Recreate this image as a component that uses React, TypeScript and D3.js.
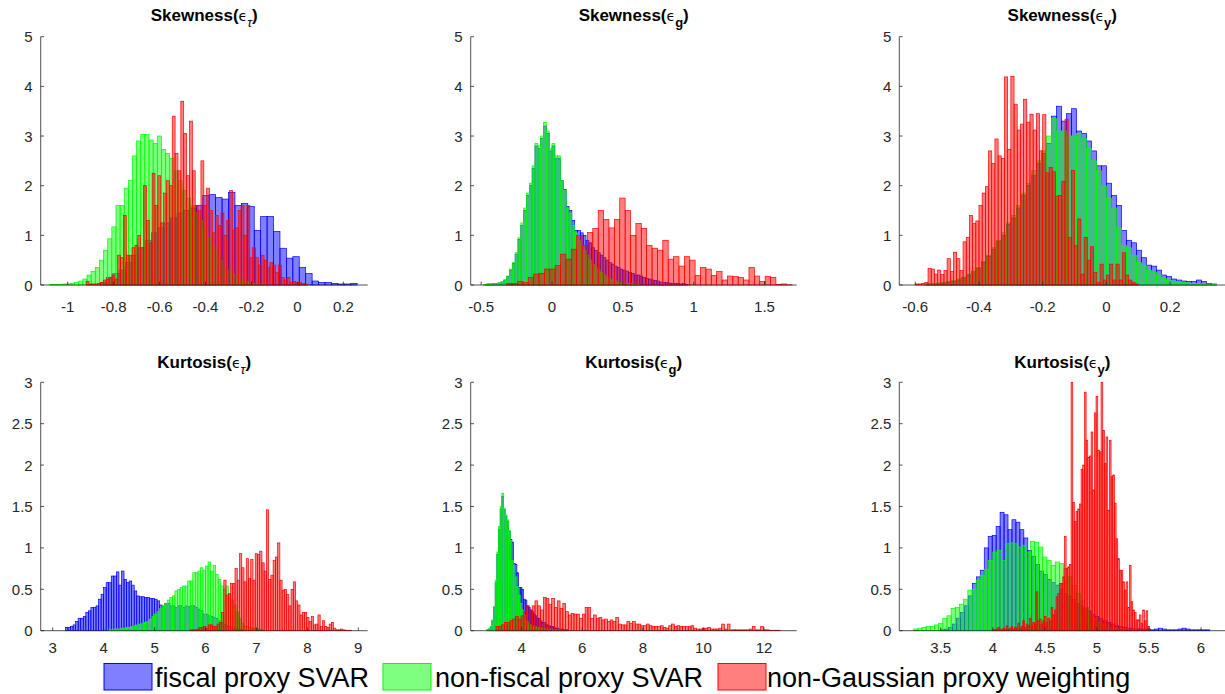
import React from "react";
import * as d3 from "d3";

const FONT = "'Liberation Sans', Arial, Helvetica, sans-serif";
const AXIS = "#262626";
const BLUE = "#0000ff";
const GREEN = "#00ff00";
const RED = "#ff0000";

// ---------- Skewness(eps_tau) ----------
const skewTauBlueStart = -0.86;
const skewTauBlueWidth = 0.028;
const skewTauBlue = [0.05, 0.15, 0.23, 0.3, 0.45, 0.6, 0.75, 0.9, 1.05, 1.15, 1.25, 1.35, 1.45, 1.5, 1.55, 1.6, 1.8, 1.82, 1.76, 1.73, 1.86, 1.6, 1.64, 1.58, 1.1, 1.38, 1.38, 1.08, 0.74, 0.54, 0.57, 0.35, 0.23, 0.08, 0.05, 0.05, 0.03, 0.02, 0.02, 0.03];
const skewTauGreenStart = -1.078;
const skewTauGreenWidth = 0.018;
const skewTauGreen = [0.01, 0.01, 0.01, 0.02, 0.02, 0.03, 0.05, 0.08, 0.12, 0.2, 0.27, 0.35, 0.5, 0.7, 0.93, 1.17, 1.6, 1.6, 1.95, 2.1, 2.6, 2.9, 3.03, 3.03, 2.92, 2.85, 3.0, 2.73, 2.65, 2.55, 2.3, 2.1, 1.9, 1.75, 1.6, 1.45, 1.3, 1.15, 0.95, 0.8, 0.65, 0.5, 0.4, 0.3, 0.22, 0.15, 0.1, 0.07, 0.05, 0.03, 0.02, 0.01];
const skewTauRedStart = -0.92;
const skewTauRedWidth = 0.0125;
const skewTauRed = [0.07, 0.02, 0.02, 0.02, 0.03, 0.05, 0.1, 0.12, 0.15, 0.2, 0.12, 0.6, 0.55, 1.4, 0.6, 0.6, 0.75, 0.8, 1.0, 0.75, 2.0, 1.3, 0.85, 2.25, 1.6, 2.2, 1.25, 1.85, 2.1, 2.0, 3.4, 2.65, 2.3, 3.7, 3.05, 2.2, 3.3, 2.3, 1.6, 1.5, 2.5, 1.6, 1.95, 1.5, 1.05, 1.4, 1.2, 1.45, 1.0, 1.3, 1.9, 1.1, 1.15, 1.5, 1.6, 1.0, 1.6, 0.55, 0.75, 0.55, 0.4, 0.6, 0.5, 0.35, 0.45, 0.4, 0.25, 0.4, 0.15, 0.1, 0.15, 0.05, 0.07, 0.05, 0.05, 0.03, 0.01];

// ---------- Skewness(eps_g) ----------
const skewGBlueStart = -0.48;
const skewGBlueWidth = 0.02;
const skewGBlue = [0.01, 0.02, 0.02, 0.03, 0.03, 0.04, 0.06, 0.1, 0.17, 0.3, 0.43, 0.62, 0.92, 1.2, 1.5, 1.8, 2.0, 2.35, 2.8, 2.75, 2.95, 3.2, 3.05, 2.7, 2.8, 2.55, 2.55, 2.1, 1.92, 1.58, 1.5, 1.3, 1.1, 1.1, 1.05, 1.0, 0.9, 0.85, 0.75, 0.7, 0.65, 0.6, 0.55, 0.5, 0.45, 0.42, 0.38, 0.35, 0.32, 0.3, 0.28, 0.25, 0.23, 0.2, 0.2, 0.18, 0.15, 0.13, 0.12, 0.1, 0.09, 0.08, 0.06, 0.05, 0.05, 0.04, 0.03, 0.03, 0.03, 0.02, 0.03, 0.01];
const skewGGreenStart = -0.48;
const skewGGreenWidth = 0.02;
const skewGGreen = [0.01, 0.02, 0.02, 0.03, 0.03, 0.04, 0.06, 0.1, 0.18, 0.32, 0.45, 0.65, 0.95, 1.25, 1.55, 1.85, 2.05, 2.4, 2.85, 2.8, 3.0, 3.27, 3.1, 2.75, 2.85, 2.6, 2.6, 2.1, 1.9, 1.55, 1.45, 1.2, 1.05, 0.9, 0.8, 0.7, 0.6, 0.5, 0.42, 0.35, 0.3, 0.25, 0.2, 0.16, 0.12, 0.1, 0.08, 0.06, 0.05, 0.04, 0.03, 0.03, 0.02, 0.02, 0.01];
const skewGRedStart = -0.32;
const skewGRedWidth = 0.038;
const skewGRed = [0.03, 0.03, 0.07, 0.05, 0.15, 0.22, 0.23, 0.32, 0.32, 0.39, 0.62, 0.52, 0.72, 1.0, 0.8, 1.06, 1.14, 1.5, 1.32, 1.15, 1.32, 1.75, 1.5, 1.0, 1.24, 1.14, 0.8, 0.74, 0.7, 0.9, 0.52, 0.57, 0.38, 0.57, 0.5, 0.19, 0.35, 0.32, 0.19, 0.27, 0.1, 0.18, 0.17, 0.15, 0.1, 0.35, 0.18, 0.07, 0.17, 0.15, 0.01, 0.02, 0.005];

// ---------- Skewness(eps_y) ----------
const skewYBlueStart = -0.565;
const skewYBlueWidth = 0.0157;
const skewYBlue = [0.02, 0.02, 0.03, 0.04, 0.05, 0.07, 0.1, 0.14, 0.2, 0.27, 0.33, 0.45, 0.58, 0.72, 0.87, 1.0, 1.22, 1.35, 1.55, 1.8, 2.0, 2.2, 2.45, 2.65, 2.85, 3.4, 3.6, 3.3, 3.45, 3.55, 3.1, 3.05, 2.9, 2.7, 2.4, 2.4, 2.05, 1.8, 1.6, 1.1, 0.9, 0.85, 0.7, 0.55, 0.4, 0.38, 0.3, 0.2, 0.17, 0.12, 0.1, 0.08, 0.07, 0.07, 0.1, 0.07, 0.03, 0.02];
const skewYGreenStart = -0.565;
const skewYGreenWidth = 0.0157;
const skewYGreen = [0.02, 0.03, 0.04, 0.05, 0.07, 0.09, 0.12, 0.16, 0.22, 0.28, 0.35, 0.47, 0.6, 0.75, 0.9, 1.05, 1.25, 1.4, 1.6, 1.85, 2.05, 2.3, 2.5, 2.7, 3.0, 3.35, 3.1, 3.1, 3.0, 3.0, 3.05, 2.95, 2.75, 2.5, 2.3, 2.0, 1.75, 1.55, 1.15, 0.8, 0.75, 0.6, 0.45, 0.4, 0.3, 0.25, 0.2, 0.13, 0.1, 0.08, 0.07, 0.05, 0.04, 0.03, 0.03, 0.02, 0.02, 0.01];
const skewYRedStart = -0.6;
const skewYRedWidth = 0.01;
const skewYRed = [0.02, 0.02, 0.03, 0.05, 0.33, 0.32, 0.22, 0.3, 0.21, 0.29, 0.53, 0.27, 0.66, 0.53, 0.29, 0.87, 0.96, 1.4, 1.24, 1.29, 1.6, 1.85, 1.98, 2.7, 2.45, 2.94, 2.6, 2.55, 4.19, 2.73, 4.2, 3.64, 3.12, 3.24, 3.74, 3.28, 3.44, 3.12, 3.45, 2.7, 3.43, 2.26, 2.37, 2.28, 1.79, 1.8, 2.09, 3.34, 0.96, 2.31, 0.79, 1.33, 0.22, 0.96, 0.5, 0.77, 0.25, 0.05, 0.42, 0.1, 0.2, 0.42, 0.1, 0.42, 0.1, 0.65, 0.2, 0.1, 0.05, 0.02];

// ---------- Kurtosis(eps_tau) ----------
const kurtTauBlueStart = 3.25;
const kurtTauBlueWidth = 0.05;
const kurtTauBlue = [0.04, 0.04, 0.05, 0.07, 0.11, 0.15, 0.15, 0.17, 0.22, 0.24, 0.28, 0.28, 0.3, 0.38, 0.44, 0.52, 0.58, 0.58, 0.66, 0.66, 0.71, 0.55, 0.72, 0.62, 0.58, 0.6, 0.55, 0.48, 0.42, 0.41, 0.41, 0.4, 0.4, 0.39, 0.39, 0.38, 0.36, 0.31, 0.29, 0.33, 0.33, 0.3, 0.3, 0.28, 0.3, 0.3, 0.28, 0.3, 0.29, 0.3, 0.3, 0.28, 0.26, 0.24, 0.2, 0.2, 0.18, 0.17, 0.16, 0.15, 0.12, 0.1, 0.08, 0.06, 0.05, 0.04, 0.03, 0.02, 0.02, 0.01];
const kurtTauGreenStart = 4.1;
const kurtTauGreenWidth = 0.05;
const kurtTauGreen = [0.01, 0.01, 0.02, 0.02, 0.02, 0.03, 0.03, 0.04, 0.04, 0.05, 0.06, 0.07, 0.08, 0.09, 0.1, 0.11, 0.14, 0.17, 0.2, 0.23, 0.27, 0.3, 0.33, 0.37, 0.4, 0.42, 0.48, 0.5, 0.52, 0.54, 0.54, 0.6, 0.6, 0.7, 0.7, 0.72, 0.76, 0.73, 0.78, 0.83, 0.72, 0.79, 0.68, 0.62, 0.54, 0.5, 0.54, 0.44, 0.37, 0.31, 0.23, 0.15, 0.09, 0.06, 0.05, 0.04, 0.03, 0.03, 0.02, 0.02, 0.01];
const kurtTauRedStart = 5.7;
const kurtTauRedWidth = 0.044;
const kurtTauRed = [0.01, 0.01, 0.01, 0.02, 0.04, 0.04, 0.05, 0.03, 0.07, 0.07, 0.05, 0.05, 0.08, 0.1, 0.22, 0.61, 0.43, 0.45, 0.57, 0.57, 0.75, 0.61, 0.93, 0.76, 0.59, 0.87, 0.63, 0.86, 0.61, 0.93, 0.92, 0.96, 0.82, 0.72, 1.46, 0.62, 0.67, 0.85, 0.89, 1.06, 0.61, 0.49, 0.5, 0.44, 0.3, 0.5, 0.59, 0.36, 0.31, 0.19, 0.22, 0.22, 0.16, 0.11, 0.17, 0.07, 0.08, 0.19, 0.05, 0.12, 0.05, 0.04, 0.08, 0.1, 0.03, 0.01, 0.01, 0.02, 0.01, 0.005, 0.005, 0.005];

// ---------- Kurtosis(eps_g) ----------
const kurtGBlueStart = 2.85;
const kurtGBlueWidth = 0.055;
const kurtGBlue = [0.01, 0.02, 0.04, 0.12, 0.28, 0.58, 0.92, 1.22, 1.47, 1.62, 1.46, 1.38, 1.32, 1.2, 1.1, 1.07, 0.81, 0.8, 0.7, 0.52, 0.52, 0.5, 0.38, 0.37, 0.3, 0.28, 0.25, 0.23, 0.2, 0.18, 0.15, 0.15, 0.12, 0.1, 0.1, 0.08, 0.07, 0.06, 0.05, 0.05, 0.04, 0.03, 0.03, 0.02, 0.02, 0.02, 0.01, 0.01, 0.01];
const kurtGGreenStart = 2.85;
const kurtGGreenWidth = 0.055;
const kurtGGreen = [0.01, 0.02, 0.05, 0.13, 0.29, 0.61, 0.95, 1.26, 1.5, 1.66, 1.48, 1.4, 1.34, 1.21, 1.09, 0.85, 0.79, 0.65, 0.53, 0.43, 0.33, 0.25, 0.19, 0.13, 0.11, 0.08, 0.07, 0.06, 0.05, 0.05, 0.04, 0.04, 0.03, 0.03, 0.03, 0.02, 0.02, 0.02, 0.02, 0.01, 0.01, 0.01, 0.01, 0.01, 0.01];
const kurtGRedStart = 3.15;
const kurtGRedWidth = 0.092;
const kurtGRed = [0.05, 0.05, 0.07, 0.1, 0.1, 0.12, 0.14, 0.17, 0.14, 0.18, 0.23, 0.3, 0.25, 0.3, 0.36, 0.3, 0.25, 0.4, 0.39, 0.32, 0.39, 0.28, 0.36, 0.27, 0.33, 0.23, 0.19, 0.21, 0.2, 0.2, 0.15, 0.2, 0.28, 0.28, 0.15, 0.19, 0.15, 0.16, 0.13, 0.14, 0.11, 0.13, 0.11, 0.16, 0.08, 0.07, 0.07, 0.11, 0.09, 0.11, 0.08, 0.08, 0.06, 0.06, 0.08, 0.06, 0.05, 0.05, 0.05, 0.06, 0.04, 0.03, 0.06, 0.08, 0.05, 0.06, 0.05, 0.05, 0.05, 0.05, 0.06, 0.03, 0.02, 0.02, 0.03, 0.03, 0.04, 0.02, 0.02, 0.02, 0.03, 0.08, 0.02, 0.08, 0.01, 0.01, 0.01, 0.01, 0.01, 0.01, 0.01, 0.02, 0.05, 0.01, 0.01, 0.05, 0.01, 0.01, 0.005, 0.005, 0.005, 0.005];

// ---------- Kurtosis(eps_y) ----------
const kurtYBlueStart = 3.5;
const kurtYBlueWidth = 0.038;
const kurtYBlue = [0.01, 0.02, 0.04, 0.08, 0.15, 0.22, 0.3, 0.42, 0.57, 0.65, 0.73, 1.0, 1.14, 1.15, 1.26, 1.43, 1.4, 1.22, 1.34, 1.31, 1.22, 1.12, 0.97, 0.9, 0.8, 0.72, 0.68, 0.62, 0.58, 0.55, 0.5, 0.45, 0.42, 0.38, 0.33, 0.3, 0.27, 0.24, 0.2, 0.17, 0.15, 0.12, 0.1, 0.08, 0.06, 0.05, 0.04, 0.03, 0.03, 0.02, 0.02, 0.02, 0.02, 0.01, 0.02, 0.03, 0.02, 0.01, 0.01, 0.01, 0.02, 0.03, 0.02, 0.01, 0.01, 0.01, 0.01, 0.01];
const kurtYGreenStart = 3.24;
const kurtYGreenWidth = 0.04;
const kurtYGreen = [0.02, 0.03, 0.04, 0.05, 0.05, 0.07, 0.09, 0.15, 0.18, 0.27, 0.28, 0.32, 0.38, 0.49, 0.5, 0.61, 0.67, 0.74, 0.85, 0.95, 0.97, 0.85, 1.05, 1.06, 1.05, 1.01, 1.03, 0.95, 1.08, 1.07, 1.01, 0.89, 0.85, 0.79, 0.83, 0.81, 0.75, 0.65, 0.55, 0.45, 0.36, 0.28, 0.2, 0.15, 0.1, 0.08, 0.06, 0.04, 0.03, 0.02, 0.02, 0.01, 0.01, 0.01];
const kurtYRedStart = 4.0;
const kurtYRedWidth = 0.016;
const kurtYRed = [0.01, 0.01, 0.02, 0.04, 0.02, 0.01, 0.03, 0.02, 0.06, 0.02, 0.03, 0.05, 0.02, 0.04, 0.03, 0.09, 0.03, 0.05, 0.12, 0.04, 0.08, 0.06, 0.15, 0.06, 0.1, 0.08, 0.47, 0.12, 0.14, 0.08, 0.12, 0.17, 0.1, 0.15, 0.12, 0.28, 0.19, 0.25, 0.41, 0.45, 0.57, 0.57, 0.65, 1.14, 0.75, 0.77, 0.8, 3.0, 1.55, 1.32, 1.44, 1.47, 1.53, 1.95, 2.0, 2.88, 2.3, 2.09, 2.11, 2.4, 1.7, 2.63, 2.83, 2.18, 2.16, 3.0, 2.42, 2.02, 2.34, 1.45, 2.3, 1.86, 1.88, 1.54, 1.11, 0.87, 0.73, 0.73, 0.59, 0.49, 0.59, 0.28, 0.79, 0.35, 0.25, 0.22, 0.13, 0.13, 0.19, 0.09, 0.25, 0.12, 0.24, 0.05, 0.01];

// ---------- ticks & labels ----------
const skewTauTicks = [-1, -0.8, -0.6, -0.4, -0.2, 0, 0.2];
const skewGTicks = [-0.5, 0, 0.5, 1, 1.5];
const skewYTicks = [-0.6, -0.4, -0.2, 0, 0.2];
const kurtTauTicks = [3, 4, 5, 6, 7, 8, 9];
const kurtGTicks = [4, 6, 8, 10, 12];
const kurtYTicks = [3.5, 4, 4.5, 5, 5.5, 6];
const skewYAxisTicks = [0, 1, 2, 3, 4, 5];
const kurtYAxisTicks = [0, 0.5, 1, 1.5, 2, 2.5, 3];
const legendLabels = ["fiscal proxy SVAR", "non-fiscal proxy SVAR", "non-Gaussian proxy weighting"];

type Series = { start: number; width: number; values: number[]; color: string };
type PanelDef = {
  main: string;
  sub: string;
  subBold: boolean;
  left: number;
  right: number;
  top: number;
  bottom: number;
  xDomain: [number, number];
  yMax: number;
  xTicks: number[];
  yTicks: number[];
  titleY: number;
  labelOffset: number;
  series: Series[];
};

const ROW1 = { top: 36.7, bottom: 285, titleY: 21, labelOffset: 26.5 };
const ROW2 = { top: 382.3, bottom: 630.7, titleY: 368, labelOffset: 22.5 };
const COL1 = { left: 40.7, right: 367.7 };
const COL2 = { left: 470.7, right: 796.7 };
const COL3 = { left: 899.3, right: 1225.3 };

const panels: PanelDef[] = [
  {
    main: "Skewness(", sub: "τ", subBold: false, ...COL1, ...ROW1,
    xDomain: [-1.1176, 0.306], yMax: 5, xTicks: skewTauTicks, yTicks: skewYAxisTicks,
    series: [
      { start: skewTauBlueStart, width: skewTauBlueWidth, values: skewTauBlue, color: BLUE },
      { start: skewTauGreenStart, width: skewTauGreenWidth, values: skewTauGreen, color: GREEN },
      { start: skewTauRedStart, width: skewTauRedWidth, values: skewTauRed, color: RED },
    ],
  },
  {
    main: "Skewness(", sub: "g", subBold: true, ...COL2, ...ROW1,
    xDomain: [-0.5738, 1.7269], yMax: 5, xTicks: skewGTicks, yTicks: skewYAxisTicks,
    series: [
      { start: skewGBlueStart, width: skewGBlueWidth, values: skewGBlue, color: BLUE },
      { start: skewGGreenStart, width: skewGGreenWidth, values: skewGGreen, color: GREEN },
      { start: skewGRedStart, width: skewGRedWidth, values: skewGRed, color: RED },
    ],
  },
  {
    main: "Skewness(", sub: "y", subBold: true, ...COL3, ...ROW1,
    xDomain: [-0.6502, 0.3733], yMax: 5, xTicks: skewYTicks, yTicks: skewYAxisTicks,
    series: [
      { start: skewYBlueStart, width: skewYBlueWidth, values: skewYBlue, color: BLUE },
      { start: skewYGreenStart, width: skewYGreenWidth, values: skewYGreen, color: GREEN },
      { start: skewYRedStart, width: skewYRedWidth, values: skewYRed, color: RED },
    ],
  },
  {
    main: "Kurtosis(", sub: "τ", subBold: false, ...COL1, ...ROW2,
    xDomain: [2.764, 9.185], yMax: 3, xTicks: kurtTauTicks, yTicks: kurtYAxisTicks,
    series: [
      { start: kurtTauBlueStart, width: kurtTauBlueWidth, values: kurtTauBlue, color: BLUE },
      { start: kurtTauGreenStart, width: kurtTauGreenWidth, values: kurtTauGreen, color: GREEN },
      { start: kurtTauRedStart, width: kurtTauRedWidth, values: kurtTauRed, color: RED },
    ],
  },
  {
    main: "Kurtosis(", sub: "g", subBold: true, ...COL2, ...ROW2,
    xDomain: [2.316, 13.08], yMax: 3, xTicks: kurtGTicks, yTicks: kurtYAxisTicks,
    series: [
      { start: kurtGBlueStart, width: kurtGBlueWidth, values: kurtGBlue, color: BLUE },
      { start: kurtGGreenStart, width: kurtGGreenWidth, values: kurtGGreen, color: GREEN },
      { start: kurtGRedStart, width: kurtGRedWidth, values: kurtGRed, color: RED },
    ],
  },
  {
    main: "Kurtosis(", sub: "y", subBold: true, ...COL3, ...ROW2,
    xDomain: [3.102, 6.233], yMax: 3, xTicks: kurtYTicks, yTicks: kurtYAxisTicks,
    series: [
      { start: kurtYBlueStart, width: kurtYBlueWidth, values: kurtYBlue, color: BLUE },
      { start: kurtYGreenStart, width: kurtYGreenWidth, values: kurtYGreen, color: GREEN },
      { start: kurtYRedStart, width: kurtYRedWidth, values: kurtYRed, color: RED },
    ],
  },
];

function Panel({ def }: { def: PanelDef }) {
  const x = d3.scaleLinear().domain(def.xDomain).range([def.left, def.right]);
  const y = d3.scaleLinear().domain([0, def.yMax]).range([def.bottom, def.top]);
  const tick = 3.3;
  return (
    <g>
      {def.series.map((s, si) => (
        <g key={si}>
          {s.values.map((h, i) => {
            if (h <= 0) return null;
            const x0 = x(s.start + i * s.width);
            const x1 = x(s.start + (i + 1) * s.width);
            const y0 = y(h);
            return (
              <rect
                key={i}
                x={x0}
                y={y0}
                width={x1 - x0}
                height={def.bottom - y0}
                fill={s.color}
                fillOpacity={0.5}
                stroke={s.color}
                strokeWidth={0.7}
              />
            );
          })}
        </g>
      ))}
      {/* axes */}
      <line x1={def.left} x2={def.right} y1={def.bottom} y2={def.bottom} stroke={AXIS} strokeWidth={0.8} />
      <line x1={def.left} x2={def.left} y1={def.bottom} y2={def.top} stroke={AXIS} strokeWidth={0.8} />
      {def.xTicks.map((t) => (
        <g key={"x" + t}>
          <line x1={x(t)} x2={x(t)} y1={def.bottom} y2={def.bottom - tick} stroke={AXIS} strokeWidth={0.8} />
          <text x={x(t)} y={def.bottom + def.labelOffset} textAnchor="middle" fontFamily={FONT} fontSize={15} fill={AXIS}>
            {String(t)}
          </text>
        </g>
      ))}
      {def.yTicks.map((t) => (
        <g key={"y" + t}>
          <line x1={def.left} x2={def.left + tick} y1={y(t)} y2={y(t)} stroke={AXIS} strokeWidth={0.8} />
          <text x={def.left - 8} y={y(t) + 5.5} textAnchor="end" fontFamily={FONT} fontSize={15} fill={AXIS}>
            {String(t)}
          </text>
        </g>
      ))}
      <text x={(def.left + def.right) / 2} y={def.titleY} textAnchor="middle" fontFamily={FONT} fontSize={17} fontWeight="bold" fill="#000">
        {def.main}
        <tspan fontWeight="normal" fontFamily="'DejaVu Sans', sans-serif" fontSize={14}>ϵ</tspan>
        <tspan fontSize={13} dy={6} fontWeight={def.subBold ? "bold" : "normal"} fontStyle={def.subBold ? "normal" : "italic"}>
          {def.sub}
        </tspan>
        <tspan dy={-6}>)</tspan>
      </text>
    </g>
  );
}

const legendColors = [BLUE, GREEN, RED];
const legendPatchX = [104, 383, 718];
const legendTextX = [155, 435, 767];

export default function App() {
  return (
    <svg width={1225} height={694} style={{ position: "absolute", left: 0, top: 0, background: "#fff" }}>
      <rect x={0} y={0} width={1225} height={694} fill="#fff" />
      {panels.map((p, i) => (
        <Panel key={i} def={p} />
      ))}
      {legendLabels.map((lab, i) => (
        <g key={lab}>
          <rect x={legendPatchX[i]} y={663.5} width={48} height={26.5} fill={legendColors[i]} fillOpacity={0.5} stroke={legendColors[i]} strokeWidth={1} />
          <text x={legendTextX[i]} y={687} fontFamily={FONT} fontSize={27} fill="#000">
            {lab}
          </text>
        </g>
      ))}
    </svg>
  );
}
